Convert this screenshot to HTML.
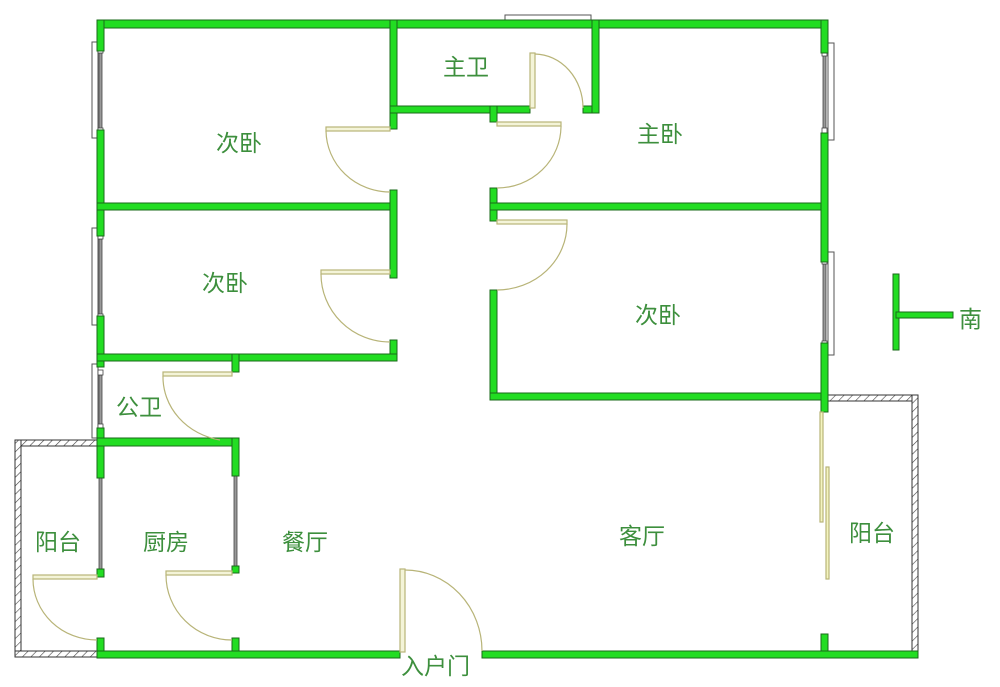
<!DOCTYPE html>
<html><head><meta charset="utf-8"><style>
html,body{margin:0;padding:0;background:#fff;}
svg{display:block}
text{font-family:"Liberation Sans","Noto Sans CJK SC",sans-serif;font-size:23px;fill:#3d8f3d;}
</style></head><body>
<svg width="1000" height="687" viewBox="0 0 1000 687" xmlns="http://www.w3.org/2000/svg">
<defs>
<pattern id="h" width="6" height="6" patternUnits="userSpaceOnUse" patternTransform="rotate(45)">
<rect width="6" height="6" fill="#fff"/><line x1="0" y1="0" x2="0" y2="6" stroke="#444" stroke-width="1.2"/>
</pattern>
</defs>
<g stroke="#333" stroke-width="1">
<rect x="15" y="440" width="85" height="6" fill="url(#h)"/>
<rect x="15" y="440" width="6" height="217" fill="url(#h)"/>
<rect x="15" y="651" width="85" height="6" fill="url(#h)"/>
<rect x="827" y="395" width="91" height="6" fill="url(#h)"/>
<rect x="912" y="395" width="6" height="262" fill="url(#h)"/>
</g>
<g fill="#fff" stroke="#555" stroke-width="1">
<rect x="92" y="42" width="6" height="96"/>
<rect x="92" y="228" width="6" height="97"/>
<rect x="92" y="364" width="6" height="74"/>
<rect x="828" y="43" width="6" height="97"/>
<rect x="828" y="252" width="6" height="103"/>
<rect x="505" y="15" width="86" height="6"/>
</g>
<g fill="#999" stroke="#444" stroke-width="0.8">
<rect x="99" y="53" width="3" height="76"/>
<rect x="99" y="239" width="3" height="76"/>
<rect x="99" y="375" width="3" height="53"/>
<rect x="99" y="478" width="3" height="92"/>
<rect x="234" y="476" width="3" height="90"/>
<rect x="823" y="55" width="3" height="76"/>
<rect x="823" y="264" width="3" height="78"/>
<rect x="517" y="20" width="64" height="3"/>
</g>
<g fill="#fff" stroke="#444" stroke-width="0.8">
<rect x="98" y="48" width="5" height="5"/><rect x="98" y="128" width="5" height="5"/>
<rect x="98" y="234" width="5" height="5"/><rect x="98" y="314" width="5" height="5"/>
<rect x="98" y="370" width="5" height="5"/><rect x="98" y="424" width="5" height="5"/>
<rect x="822" y="51" width="5" height="5"/><rect x="822" y="128" width="5" height="5"/>
<rect x="822" y="259" width="5" height="5"/><rect x="822" y="341" width="5" height="5"/>
<rect x="512" y="21" width="5" height="5"/><rect x="578" y="21" width="5" height="5"/>
</g>
<g fill="#22dd22" stroke="#1a6a1a" stroke-width="1">
<rect x="97" y="20" width="731" height="8"/>
<rect x="97" y="20" width="7" height="31"/>
<rect x="97" y="130" width="7" height="106"/>
<rect x="97" y="316" width="7" height="51"/>
<rect x="97" y="428" width="7" height="50"/>
<rect x="97" y="569" width="7" height="8"/>
<rect x="97" y="638" width="7" height="20"/>
<rect x="97" y="203" width="300" height="7"/>
<rect x="390" y="20" width="7" height="109"/>
<rect x="390" y="190" width="7" height="88"/>
<rect x="390" y="340" width="7" height="21"/>
<rect x="97" y="354" width="300" height="7"/>
<rect x="390" y="106" width="140" height="7"/>
<rect x="583" y="106" width="16" height="7"/>
<rect x="592" y="20" width="7" height="93"/>
<rect x="490" y="106" width="7" height="16"/>
<rect x="490" y="188" width="7" height="33"/>
<rect x="490" y="290" width="7" height="110"/>
<rect x="490" y="203" width="338" height="7"/>
<rect x="490" y="393" width="338" height="7"/>
<rect x="821" y="20" width="7" height="33"/>
<rect x="821" y="133" width="7" height="129"/>
<rect x="821" y="343" width="7" height="69"/>
<rect x="821" y="634" width="7" height="24"/>
<rect x="232" y="354" width="7" height="18"/>
<rect x="97" y="438" width="142" height="8"/>
<rect x="232" y="438" width="7" height="38"/>
<rect x="232" y="566" width="7" height="7"/>
<rect x="232" y="638" width="7" height="20"/>
<rect x="97" y="651" width="303" height="7"/>
<rect x="482" y="651" width="436" height="7"/>
<rect x="893" y="274" width="6" height="76"/>
<rect x="896" y="312" width="57" height="6"/>
</g>
<g fill="none" stroke="#b8b478" stroke-width="1.2">
<rect x="326" y="127" width="64" height="4" fill="#f4f4d8"/>
<path d="M326 131 A64 62 0 0 0 390 192"/>
<rect x="321" y="270" width="69" height="4" fill="#f4f4d8"/>
<path d="M321 274 A69 68 0 0 0 390 342"/>
<rect x="497" y="122" width="64" height="4" fill="#f4f4d8"/>
<path d="M561 126 A64 62 0 0 1 497 188"/>
<rect x="497" y="220" width="70" height="4" fill="#f4f4d8"/>
<path d="M567 224 A70 66 0 0 1 497 290"/>
<rect x="530" y="53" width="5" height="55" fill="#f4f4d8"/>
<path d="M535 54 A49 54 0 0 1 583 108"/>
<rect x="163" y="372" width="69" height="4" fill="#f4f4d8"/>
<path d="M163 376 A69 64 0 0 0 220 440"/>
<rect x="33" y="575" width="64" height="4" fill="#f4f4d8"/>
<path d="M33 579 A64 61 0 0 0 97 640"/>
<rect x="166" y="571" width="66" height="4" fill="#f4f4d8"/>
<path d="M166 575 A66 65 0 0 0 232 640"/>
<rect x="400" y="569" width="5" height="83" fill="#f4f4d8"/>
<path d="M405 570 A77 81 0 0 1 482 651"/>
<rect x="820" y="412" width="3" height="110" fill="#f4f4c0"/>
<rect x="826" y="467" width="3" height="112" fill="#f4f4c0"/>
</g>
<text x="216" y="151">次卧</text>
<text x="443" y="75">主卫</text>
<text x="637" y="142">主卧</text>
<text x="202" y="291">次卧</text>
<text x="635" y="323">次卧</text>
<text x="116" y="415">公卫</text>
<text x="35" y="550">阳台</text>
<text x="143" y="550">厨房</text>
<text x="282" y="550">餐厅</text>
<text x="619" y="544">客厅</text>
<text x="849" y="541">阳台</text>
<text x="401" y="674">入户门</text>
<text x="959" y="327">南</text>
</svg>
</body></html>
